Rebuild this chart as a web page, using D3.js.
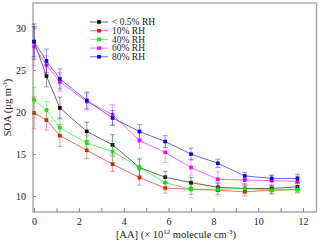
<!DOCTYPE html>
<html>
<head>
<meta charset="utf-8">
<script src="https://cdn.jsdelivr.net/npm/d3@7.9.0/dist/d3.min.js"></script>
<style>
  body { margin: 0; background: #fff; }
  text { font-family: "Liberation Serif", "DejaVu Serif", serif; fill: #222; }
</style>
</head>
<body>
<svg id="chart" width="320" height="243"></svg>
<script>
// [AA] in 1e12 molecule cm-3
const aa = [0, 0.55, 1.15, 2.35, 3.5, 4.7, 5.85, 7.0, 8.2, 9.4, 10.6, 11.75];

const seriesNames = ["< 0.5% RH", "10% RH", "40% RH", "60% RH", "80% RH"];
const seriesColors = ["#000000", "#ff0000", "#00ee00", "#ff00ff", "#0000ff"];

const soaDry = [28.4, 24.3, 20.5, 17.7, 16.1, 13.4, 12.25, 11.6, 11.05, 10.9, 10.9, 11.1];
const soa10 = [19.9, 19.05, 17.2, 15.45, 13.8, 12.2, 10.95, 10.8, 10.7, 10.5, 10.7, 10.8];
const soa40 = [21.45, 20.25, 18.15, 16.3, 15.3, 13.4, 11.6, 10.8, 10.8, 10.9, 10.7, 10.75];
const soa60 = [27.8, 25.6, 23.6, 21.25, 19.7, 16.6, 15.2, 13.4, 12.0, 11.9, 11.85, 11.75];
const soa80 = [28.4, 26.1, 23.95, 21.4, 19.3, 17.7, 16.5, 15.0, 13.9, 12.4, 12.1, 12.1];

const errDry = [2.1, 1.3, 1.3, 1.1, 1.2, 1.0, 0.7, 0.6, 0.5, 0.4, 0.4, 0.4];
const err10 = [1.9, 1.2, 1.3, 1.0, 0.9, 0.9, 0.6, 0.6, 0.5, 0.5, 0.4, 0.4];
const err40 = [1.5, 1.0, 1.2, 0.9, 1.3, 1.1, 0.8, 1.0, 0.8, 0.6, 0.5, 0.4];
const err60 = [2.3, 1.1, 1.1, 1.0, 1.2, 0.9, 1.2, 1.0, 0.9, 0.5, 0.6, 0.6];
const err80 = [1.8, 1.4, 1.2, 1.0, 0.9, 0.8, 0.7, 0.7, 0.5, 0.4, 0.4, 0.5];

const xTicks = [0, 2, 4, 6, 8, 10, 12];
const yTicks = [10, 15, 20, 25, 30];

const allSoa = [soaDry, soa10, soa40, soa60, soa80];
const allErr = [errDry, err10, err40, err60, err80];

const margin = { left: 33, right: 3.5, top: 3, bottom: 31 };
const W = 320, H = 243;

const svg = d3.select("#chart");

const x = d3.scaleLinear().domain([-0.05, 12.6]).range([margin.left, W - margin.right]);
const y = d3.scaleLinear().domain([8.1, 33]).range([H - margin.bottom, margin.top]);

// frame
svg.append("rect")
  .attr("x", x.range()[0]).attr("y", y.range()[1])
  .attr("width", x.range()[1] - x.range()[0])
  .attr("height", y.range()[0] - y.range()[1])
  .attr("fill", "none").attr("stroke", "#aaaaaa").attr("stroke-width", 1.5);

// x axis (ticks inside)
const xAxis = svg.append("g")
  .attr("transform", `translate(0,${y.range()[0]})`)
  .call(d3.axisBottom(x).tickValues(d3.range(0, 13, 1)).tickSize(-4)
    .tickFormat(d => xTicks.includes(d) ? d : ""));
xAxis.select(".domain").remove();
xAxis.selectAll(".tick line").attr("stroke", "#888");
xAxis.selectAll(".tick text").attr("dy", "0.95em").attr("font-size", 10)
  .style("font-family", "Liberation Serif, serif").attr("fill", "#222");

// y axis
const yAxis = svg.append("g")
  .attr("transform", `translate(${x.range()[0]},0)`)
  .call(d3.axisLeft(y).tickValues(yTicks).tickSize(-3).tickPadding(7));
yAxis.select(".domain").remove();
yAxis.selectAll(".tick line").attr("stroke", "#888");
yAxis.selectAll(".tick text").attr("font-size", 10)
  .style("font-family", "Liberation Serif, serif").attr("fill", "#222");

// series
const line = d3.line().x(d => x(d.x)).y(d => y(d.y));

allSoa.forEach((vals, i) => {
  const pts = vals.map((v, j) => ({ x: aa[j], y: v, e: allErr[i][j] }));
  const c = seriesColors[i];
  const g = svg.append("g");

  g.selectAll(".err").data(pts).enter().append("path")
    .attr("d", d => {
      const px = x(d.x), t = y(d.y + d.e), b = y(d.y - d.e);
      return `M${px},${t}V${b}M${px - 2.5},${t}H${px + 2.5}M${px - 2.5},${b}H${px + 2.5}`;
    })
    .attr("stroke", c).attr("stroke-opacity", 0.4).attr("stroke-width", 1).attr("fill", "none");

  g.append("path").datum(pts).attr("d", line)
    .attr("fill", "none").attr("stroke", c).attr("stroke-opacity", 0.6).attr("stroke-width", 1);

  g.selectAll("rect").data(pts).enter().append("rect")
    .attr("x", d => x(d.x) - 1.8).attr("y", d => y(d.y) - 1.8)
    .attr("width", 3.6).attr("height", 3.6).attr("fill", c);
});

// legend
const leg = svg.append("g");
seriesNames.forEach((name, i) => {
  const ly = 22 + i * 8.7;
  leg.append("line").attr("x1", 90).attr("x2", 108).attr("y1", ly).attr("y2", ly)
    .attr("stroke", seriesColors[i]).attr("stroke-opacity", 0.6);
  leg.append("rect").attr("x", 97.2).attr("y", ly - 1.8).attr("width", 3.6).attr("height", 3.6)
    .attr("fill", seriesColors[i]);
  leg.append("text").attr("x", 112).attr("y", ly + 3.2).attr("font-size", 9.5).text(name);
});

// axis titles
svg.append("text")
  .attr("transform", `translate(11,${(y.range()[0] + y.range()[1]) / 2}) rotate(-90)`)
  .attr("text-anchor", "middle").attr("font-size", 10.5)
  .html('SOA (μg m<tspan dy="-4" font-size="7">-3</tspan><tspan dy="4">)</tspan>');

svg.append("text")
  .attr("x", 176).attr("y", 238)
  .attr("text-anchor", "middle").attr("font-size", 10.5)
  .html('[AA] (× 10<tspan dy="-4" font-size="7">12</tspan><tspan dy="4"> molecule cm</tspan><tspan dy="-4" font-size="7">-3</tspan><tspan dy="4">)</tspan>');
</script>
</body>
</html>
